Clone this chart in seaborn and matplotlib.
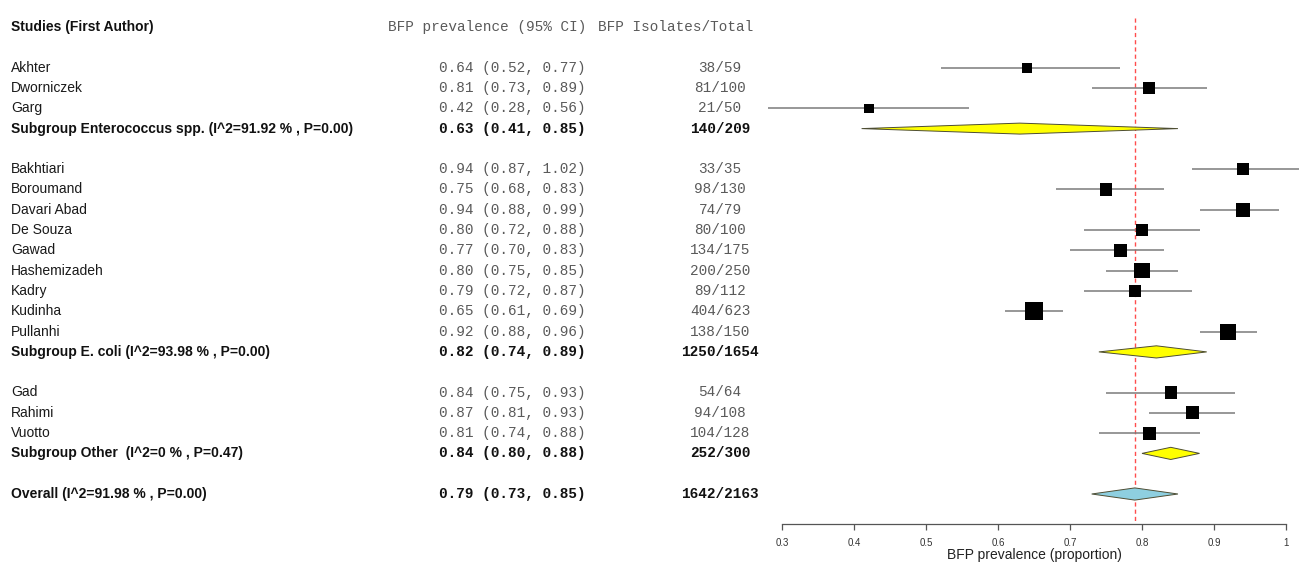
import numpy as np
import pandas as pd
import matplotlib
matplotlib.use("Agg")
import matplotlib.pyplot as plt
import matplotlib.transforms as mtransforms
import seaborn as sns

# ---- study-level data -------------------------------------------------------
studies = ["Akhter", "Dworniczek", "Garg",
           "Bakhtiari", "Boroumand", "Davari Abad", "De Souza", "Gawad",
           "Hashemizadeh", "Kadry", "Kudinha", "Pullanhi",
           "Gad", "Rahimi", "Vuotto"]
groups = ["Enterococcus spp."] * 3 + ["E. coli"] * 9 + ["Other"] * 3
estimate = [0.64, 0.81, 0.42,
            0.94, 0.75, 0.94, 0.80, 0.77, 0.80, 0.79, 0.65, 0.92,
            0.84, 0.87, 0.81]
ci_low = [0.52, 0.73, 0.28,
          0.87, 0.68, 0.88, 0.72, 0.70, 0.75, 0.72, 0.61, 0.88,
          0.75, 0.81, 0.74]
ci_high = [0.77, 0.89, 0.56,
           1.02, 0.83, 0.99, 0.88, 0.83, 0.85, 0.87, 0.69, 0.96,
           0.93, 0.93, 0.88]
events = [38, 81, 21, 33, 98, 74, 80, 134, 200, 89, 404, 138, 54, 94, 104]
totals = [59, 100, 50, 35, 130, 79, 100, 175, 250, 112, 623, 150, 64, 108, 128]
weights = [5.7, 8.2, 5.1, 8.2, 8.2, 11.1, 8.2, 9.6, 12.8, 8.2, 18.4, 14.5,
           8.2, 9.6, 9.6]

# ---- pooled estimates -------------------------------------------------------
subgroup_names = ["Enterococcus spp.", "E. coli", "Other"]
subgroup_labels = ["Subgroup Enterococcus spp. (I^2=91.92 % , P=0.00)",
                   "Subgroup E. coli (I^2=93.98 % , P=0.00)",
                   "Subgroup Other  (I^2=0 % , P=0.47)"]
subgroup_est = [0.63, 0.82, 0.84]
subgroup_low = [0.41, 0.74, 0.80]
subgroup_high = [0.85, 0.89, 0.88]
subgroup_events = [140, 1250, 252]
subgroup_totals = [209, 1654, 300]

overall_label = "Overall (I^2=91.98 % , P=0.00)"
overall_est, overall_low, overall_high = 0.79, 0.73, 0.85
overall_events, overall_totals = 1642, 2163

header_study = "Studies (First Author)"
header_ci = "BFP prevalence (95% CI)"
header_n = "BFP Isolates/Total"
x_label = "BFP prevalence (proportion)"
x_ticks = [0.3, 0.4, 0.5, 0.6, 0.7, 0.8, 0.9, 1.0]
x_ticklabels = ["0.3", "0.4", "0.5", "0.6", "0.7", "0.8", "0.9", "1"]

# ---- layout rows ------------------------------------------------------------
r = 2
study_df = pd.DataFrame(dict(study=studies, group=groups, est=estimate,
                             lo=ci_low, hi=ci_high, ev=events, n=totals,
                             w=weights))
study_df["row"] = np.nan
sub_rows = []
for g in subgroup_names:
    idx = study_df.index[study_df["group"] == g]
    for i in idx:
        study_df.loc[i, "row"] = r
        r += 1
    sub_rows.append(r)
    r += 2
overall_row = r

# ---- figure -----------------------------------------------------------------
sns.set_theme(style="white")
plt.rcParams["font.family"] = ["Liberation Sans", "DejaVu Sans"]

W, H = 1299, 562
fig = plt.figure(figsize=(W / 100, H / 100), dpi=100)

row0_px, row_h = 27.1, 20.3
axis_px = 524.0
y_bottom = (axis_px - row0_px) / row_h
y_top = -1.0
ax_h_px = (y_bottom - y_top) * row_h
x0, x1 = 0.25, 1.02
px_per_unit = 719.0
left_px = 782.5 - (0.3 - x0) * px_per_unit
ax = fig.add_axes([left_px / W, (H - axis_px) / H,
                   (x1 - x0) * px_per_unit / W, ax_h_px / H])
ax.set_facecolor("none")

# reference line at the overall estimate
ax.vlines(overall_est, -0.45, y_bottom, colors="#ff4d4d", linestyles=(0, (3, 2.2)),
          linewidth=1.0, zorder=1)

# confidence intervals
ax.hlines(study_df["row"], study_df["lo"], study_df["hi"], colors="#7a7a7a",
          linewidth=1.1, zorder=2, clip_on=False)

# weighted squares
wmax = max(weights)
area_per_w = 9.12
sns.scatterplot(data=study_df, x="est", y="row", size="w",
                sizes=(0, area_per_w * wmax), size_norm=(0, wmax),
                marker="s", color="black", linewidth=0, legend=False,
                ax=ax, zorder=3)


def diamond(est, lo, hi, row, fill, hh=0.3):
    xs = [lo, est, hi, est]
    ys = [row, row - hh, row, row + hh]
    ax.fill(xs, ys, facecolor=fill, edgecolor="#4d4d33", linewidth=0.7, zorder=3)


for k in range(3):
    diamond(subgroup_est[k], subgroup_low[k], subgroup_high[k], sub_rows[k],
            "#ffff00", hh=0.27 if k == 0 else 0.3)
diamond(overall_est, overall_low, overall_high, overall_row, "#8ecfe0")

ax.set_xlim(x0, x1)
ax.set_ylim(y_bottom, y_top)
ax.set_xlabel("")
ax.set_ylabel("")

# x axis
for s in ["top", "left", "right"]:
    ax.spines[s].set_visible(False)
ax.spines["bottom"].set_bounds(0.3, 1.0)
ax.spines["bottom"].set_color("#555555")
ax.spines["bottom"].set_linewidth(0.9)
ax.set_xticks(x_ticks)
ax.set_xticklabels(x_ticklabels)
ax.tick_params(axis="x", direction="out", length=4, width=0.9, color="#555555",
               pad=6, labelsize=7, labelcolor="#333333", bottom=True)
ax.set_yticks([])
ax.grid(False)
fig.text(1034 / W, (H - 555) / H, x_label, ha="center", va="center",
         fontsize=10, color="#222222")

# ---- text columns -----------------------------------------------------------
tr = mtransforms.blended_transform_factory(fig.transFigure, ax.transData)
name_x = 11 / W
ci_x = 586 / W
n_x = 720 / W
mono = ["Liberation Mono", "DejaVu Sans Mono"]
name_fs, mono_fs = 10, 10.4
grey = "#5a5a5a"

ax.text(name_x, 0, header_study, transform=tr, ha="left", va="center",
        fontsize=name_fs, fontweight="bold", color="#111111")
ax.text(ci_x, 0, header_ci, transform=tr, ha="right", va="center",
        fontsize=mono_fs, family=mono, color=grey)
ax.text(598 / W, 0, header_n, transform=tr, ha="left", va="center",
        fontsize=mono_fs, family=mono, color=grey)


def fmt(e, lo, hi):
    return f"{e:.2f} ({lo:.2f}, {hi:.2f})"


for _, rw in study_df.iterrows():
    ax.text(name_x, rw["row"], rw["study"], transform=tr, ha="left",
            va="center", fontsize=name_fs, color="#1a1a1a")
    ax.text(ci_x, rw["row"], fmt(rw["est"], rw["lo"], rw["hi"]), transform=tr,
            ha="right", va="center", fontsize=mono_fs, family=mono, color=grey)
    ax.text(n_x, rw["row"], f"{int(rw['ev'])}/{int(rw['n'])}", transform=tr,
            ha="center", va="center", fontsize=mono_fs, family=mono, color=grey)

pooled = [(subgroup_labels[k], subgroup_est[k], subgroup_low[k], subgroup_high[k],
           subgroup_events[k], subgroup_totals[k], sub_rows[k]) for k in range(3)]
pooled.append((overall_label, overall_est, overall_low, overall_high,
               overall_events, overall_totals, overall_row))
for lab, e, lo, hi, ev, n, row in pooled:
    ax.text(name_x, row, lab, transform=tr, ha="left", va="center",
            fontsize=name_fs, fontweight="bold", color="#111111")
    ax.text(ci_x, row, fmt(e, lo, hi), transform=tr, ha="right", va="center",
            fontsize=mono_fs, family=mono, fontweight="bold", color="#111111")
    ax.text(n_x, row, f"{ev}/{n}", transform=tr, ha="center", va="center",
            fontsize=mono_fs, family=mono, fontweight="bold", color="#111111")

fig.savefig("out.png", dpi=100, facecolor="white")
